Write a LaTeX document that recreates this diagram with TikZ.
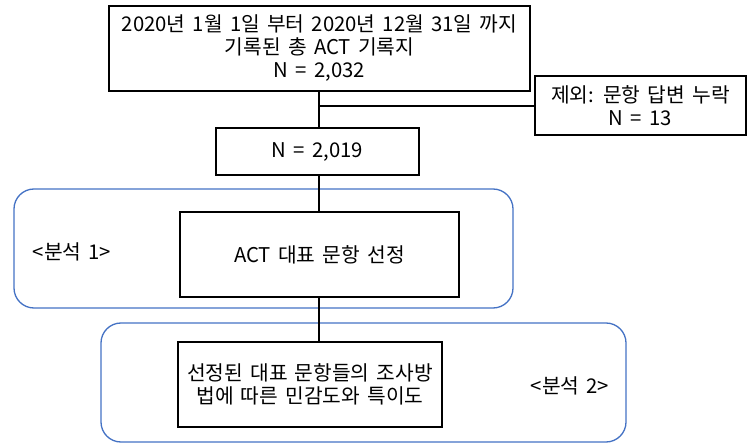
\documentclass[tikz,border=0pt]{standalone}
\usepackage{fontspec}
\setmainfont{Noto Sans CJK KR}[WordSpace={1.6}]
\definecolor{grpblue}{HTML}{4472C4}
\begin{document}
\begin{tikzpicture}[x=1pt,y=-1pt,
  box/.style={draw=black, line width=1.3pt, fill=white, inner sep=0pt, align=center,
    font=\fontsize{20.3pt}{23pt}\selectfont},
  grp/.style={draw=grpblue, line width=1.3pt, rounded corners=20pt},
  lbl/.style={inner sep=0pt, font=\fontsize{20.3pt}{23pt}\selectfont},
  conn/.style={draw=black, line width=1.3pt}]
\useasboundingbox (0,0) rectangle (747,443);
% groups
\draw[grp] (14,189) rectangle (513,308);
\draw[grp] (101,323) rectangle (626,442);
% boxes
\node[box, minimum width=421pt, minimum height=85pt] (top) at (319.5,48.5)
  {2020년 1월 1일 부터 2020년 12월 31일 까지\\기록된 총 ACT 기록지\\N = 2,032};
\node[box, minimum width=211pt, minimum height=59pt] (excl) at (640.5,105.5)
  {제외: 문항 답변 누락\\N = 13};
\node[box, minimum width=203pt, minimum height=47pt] (n) at (317.5,151.5)
  {N = 2,019};
\node[box, minimum width=279pt, minimum height=85pt] (act) at (319.5,254.5)
  {ACT 대표 문항 선정};
\node[box, minimum width=264pt, minimum height=85pt] (sel) at (310,384.5)
  {선정된 대표 문항들의 조사방\\법에 따른 민감도와 특이도};
\node[lbl] (l1) at (72,252) {<분석 1>};
\node[lbl] (l2) at (570,386) {<분석 2>};
% connectors
\coordinate (br) at (319,106);
\draw[conn] (top.south -| br) -- (n.north -| br);
\draw[conn] (br) -- (br -| excl.west);
\draw[conn] (n.south -| br) -- (act.north -| br);
\draw[conn] (act.south -| br) -- (sel.north -| br);
\end{tikzpicture}
\end{document}
